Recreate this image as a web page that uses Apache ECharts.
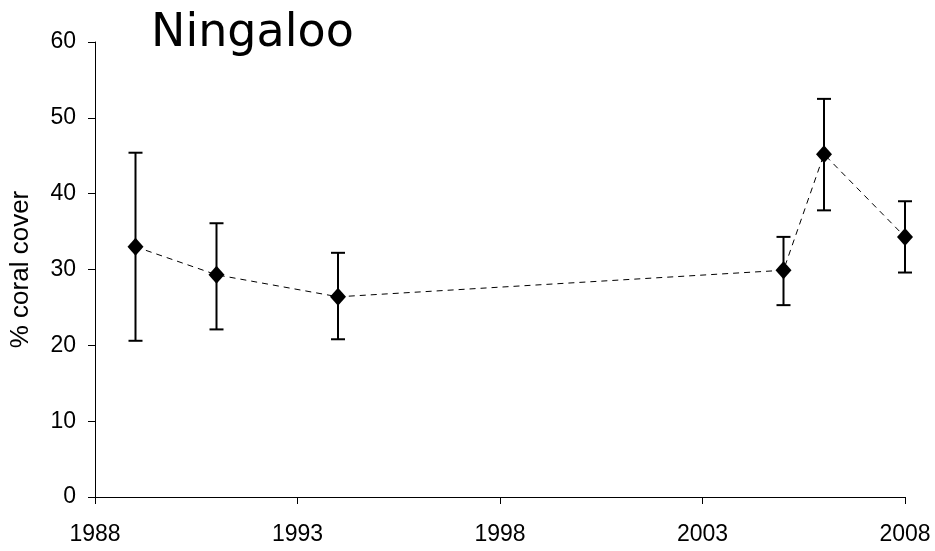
<!DOCTYPE html>
<html>
<head>
<meta charset="utf-8">
<script src="https://cdn.jsdelivr.net/npm/echarts@6/dist/echarts.min.js"></script>
<style>html,body{margin:0;padding:0;background:#fff}#c{width:935px;height:551px}</style>
</head>
<body>
<div id="c"></div>
<script>
const years = [1989, 1991, 1994, 2005, 2006, 2008];
const cover = [33.0, 29.3, 26.4, 29.9, 45.2, 34.3];
const upper = [45.4, 36.1, 32.2, 34.3, 52.5, 39.0];
const lower = [20.6, 22.1, 20.8, 25.3, 37.8, 29.6];
const xTicks = [1988, 1993, 1998, 2003, 2008];
const yTicks = [0, 10, 20, 30, 40, 50, 60];

const chart = echarts.init(document.getElementById('c'));
const font = 'Liberation Sans, Arial, sans-serif';
chart.setOption({
  animation: false,
  backgroundColor: '#fff',
  title: {
    text: 'Ningaloo', left: 146, top: 6,
    textStyle: { fontFamily: 'DejaVu Sans', fontSize: 46, fontWeight: 'normal', color: '#000' }
  },
  grid: { left: 95, right: 30, top: 42, bottom: 54 },
  xAxis: {
    type: 'value', min: xTicks[0], max: xTicks[xTicks.length - 1], interval: 5,
    axisLine: { lineStyle: { color: '#000', width: 1 } },
    axisTick: { show: true, length: 7, lineStyle: { color: '#000' } },
    splitLine: { show: false },
    axisLabel: { color: '#000', fontFamily: font, fontSize: 23, margin: 26, formatter: v => String(v) }
  },
  yAxis: {
    type: 'value', min: yTicks[0], max: yTicks[yTicks.length - 1], interval: 10,
    name: '% coral cover', nameLocation: 'middle', nameGap: 61,
    nameTextStyle: { color: '#000', fontFamily: font, fontSize: 26 },
    axisLine: { show: true, lineStyle: { color: '#000', width: 1 } },
    axisTick: { show: true, length: 7, lineStyle: { color: '#000' } },
    splitLine: { show: false },
    axisLabel: { color: '#000', fontFamily: font, fontSize: 23, margin: 19 }
  },
  series: [
    {
      type: 'custom',
      data: years.map((y, i) => [y, lower[i], upper[i]]),
      renderItem: function (params, api) {
        const x = api.value(0);
        const lo = api.coord([x, api.value(1)]);
        const hi = api.coord([x, api.value(2)]);
        const hw = 7;
        const st = { stroke: '#000', lineWidth: 2 };
        return {
          type: 'group',
          children: [
            { type: 'line', shape: { x1: lo[0], y1: lo[1], x2: hi[0], y2: hi[1] }, style: st },
            { type: 'line', shape: { x1: hi[0] - hw, y1: hi[1], x2: hi[0] + hw, y2: hi[1] }, style: st },
            { type: 'line', shape: { x1: lo[0] - hw, y1: lo[1], x2: lo[0] + hw, y2: lo[1] }, style: st }
          ]
        };
      },
      z: 2
    },
    {
      type: 'line',
      data: years.map((y, i) => [y, cover[i]]),
      symbol: 'diamond', symbolSize: [16, 18],
      itemStyle: { color: '#000' },
      lineStyle: { color: '#000', width: 1, type: [6, 5] },
      z: 3
    }
  ]
});
</script>
</body>
</html>
